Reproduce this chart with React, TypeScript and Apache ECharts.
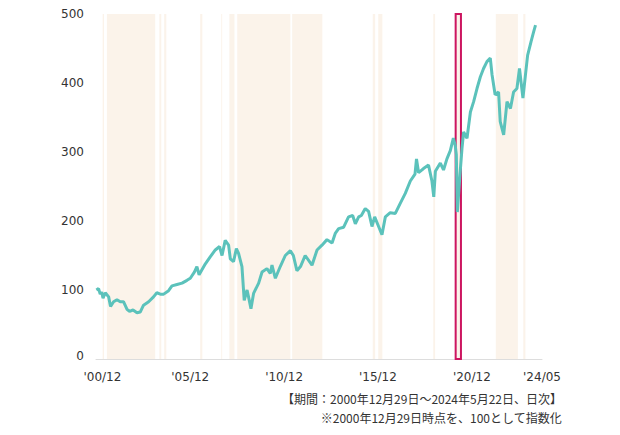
import React, { useEffect, useRef } from "react";
import * as echarts from "echarts";

// Index level (2000-12-29 = 100)
const dates: string[] = [
  "2000-12-29","2001-02-10","2001-03-14","2001-04-12","2001-05-08","2001-06-21","2001-08-25","2001-10-01",
  "2001-11-29","2002-02-03","2002-04-08","2002-06-10","2002-08-18","2002-10-05","2002-12-13","2003-02-28",
  "2003-05-01","2003-07-05","2003-10-12","2004-01-15","2004-03-20","2004-05-26","2004-07-31","2004-11-03",
  "2005-01-08","2005-04-16","2005-07-23","2005-10-27","2005-12-31","2006-03-20","2006-05-08","2006-06-20",
  "2006-10-20","2007-01-22","2007-05-01","2007-07-23","2007-09-09","2007-11-10","2008-01-15","2008-02-18",
  "2008-04-20","2008-06-14","2008-07-27","2008-10-01","2008-11-14","2009-01-08","2009-02-06","2009-03-25",
  "2009-05-15","2009-08-22","2009-10-27","2010-01-30","2010-04-05","2010-05-08","2010-07-13","2010-10-16",
  "2011-01-22","2011-05-01","2011-06-28","2011-09-05","2011-11-14","2012-02-13","2012-06-25","2012-10-01",
  "2013-01-05","2013-04-12","2013-07-20","2013-09-20","2013-11-25","2014-03-03","2014-06-06","2014-08-25",
  "2014-10-16","2014-12-20","2015-02-10","2015-04-27","2015-07-01","2015-09-05","2015-10-27","2016-01-12",
  "2016-03-17","2016-05-22","2016-08-25","2016-12-02","2017-03-10","2017-06-14","2017-09-20","2017-12-20",
  "2018-01-18","2018-02-28","2018-05-05","2018-06-03","2018-09-09","2018-11-14","2018-12-20","2019-01-20",
  "2019-04-27","2019-06-28","2019-09-02","2019-11-07","2020-01-05","2020-02-10","2020-03-03","2020-03-23",
  "2020-05-08","2020-06-21","2020-07-23","2020-09-27","2020-12-02","2021-02-03","2021-04-09","2021-06-14",
  "2021-08-15","2021-10-20","2021-12-24","2022-01-27","2022-03-28","2022-06-03","2022-07-05","2022-09-10",
  "2022-11-14","2023-01-20","2023-03-22","2023-05-26","2023-07-15","2023-09-20","2023-11-07","2023-12-20",
  "2024-02-25","2024-04-15","2024-05-22",
];
const values: number[] = [
  100,102,94,97,88,96,90,76,
  83,86,83,83,72,69,71,67,
  68,78,83,90,96,94,94,99,
  106,108,110,114,117,126,134,122,
  138,148,158,163,150,172,165,145,
  141,160,153,134,85,100,90,73,
  95,110,126,131,124,136,117,134,
  150,157,150,128,134,150,136,158,
  165,173,168,182,189,191,206,208,
  196,206,208,218,214,192,206,192,
  180,206,212,211,226,240,258,268,
  290,270,274,276,281,258,235,272,
  284,274,290,302,320,310,296,213,
  262,305,329,320,358,373,392,409,
  421,431,436,412,383,387,344,325,
  373,363,387,392,421,378,411,440,
  460,474,484,
];

// Shaded periods
const bandStarts: string[] = [
  "2001-05-01","2001-07-22","2004-05-08","2004-08-10","2006-07-12","2007-08-25","2008-01-30",
  "2008-07-01","2011-06-05","2015-09-20","2016-01-05","2018-12-10","2022-04-10","2023-09-27",
];
const bandEnds: string[] = [
  "2001-05-26","2004-02-17","2004-06-14","2004-09-20","2006-08-22","2007-09-12","2008-05-08",
  "2011-05-01","2013-01-12","2015-11-06","2016-03-25","2019-01-15","2023-06-14","2023-11-07",
];
// Highlighted period (red frame)
const highlight: [string, string] = ["2020-02-19", "2020-06-01"];

// Axis
const xMin = "2000-12-22";
const xMax = "2024-09-25";
const xTickDates: string[] = ["2001-04-26", "2005-12-30", "2010-12-30", "2015-12-30", "2020-12-30", "2024-09-25"];
const xTickLabels: string[] = ["'00/12", "'05/12", "'10/12", "'15/12", "'20/12", "'24/05"];
const yTicks: number[] = [0, 100, 200, 300, 400, 500];

const noteLines: string[] = [
  "【期間：2000年12月29日～2024年5月22日、日次】",
  "※2000年12月29日時点を、100として指数化",
];

const BAND = "#fbf3ea";
const LINE = "#5bc2bb";
const RED = "#cc1560";
const TEXT = "#333333";
const FONT = "DejaVu Sans";

export default function App() {
  const ref = useRef<HTMLDivElement>(null);
  useEffect(() => {
    document.body.style.margin = "0";
    if (!ref.current) return;
    const chart = echarts.init(ref.current, undefined, { renderer: "svg" });
    const ts = (d: string) => new Date(d + "T00:00:00Z").getTime();
    const tickTs = xTickDates.map(ts);
    chart.setOption({
      animation: false,
      grid: { left: 96, right: 78, top: 14, bottom: 76 },
      xAxis: {
        type: "value",
        min: ts(xMin),
        max: ts(xMax),
        axisLine: { show: true, lineStyle: { color: "#dddddd", width: 1 } },
        axisTick: { show: false },
        splitLine: { show: false },
        axisLabel: {
          customValues: tickTs,
          margin: 12,
          color: TEXT,
          fontFamily: FONT,
          fontSize: 12,
          formatter: (v: number) => {
            const i = tickTs.indexOf(v);
            return i >= 0 ? xTickLabels[i] : "";
          },
        },
      },
      yAxis: {
        type: "value",
        min: yTicks[0],
        max: yTicks[yTicks.length - 1],
        interval: 100,
        axisLine: { show: false },
        axisTick: { show: false },
        splitLine: { show: false },
        axisLabel: {
          margin: 12,
          color: TEXT,
          fontFamily: FONT,
          fontSize: 12,
          formatter: (v: number) => (v === 0 ? "{z|0}" : String(v)),
          rich: { z: { padding: [0, 0, 7, 0], color: TEXT, fontFamily: FONT, fontSize: 12 } },
        },
      },
      series: [
        {
          type: "line",
          data: dates.map((d, i) => [ts(d), values[i]]),
          showSymbol: false,
          lineStyle: { color: LINE, width: 3 },
          itemStyle: { color: LINE },
          z: 3,
          markArea: {
            silent: true,
            itemStyle: { color: BAND },
            data: [
              ...bandStarts.map((s, i) => [{ xAxis: ts(s) }, { xAxis: ts(bandEnds[i]) }]),
              [{ xAxis: ts(highlight[0]) }, { xAxis: ts(highlight[1]) }],
            ],
          },
        },
        {
          type: "line",
          data: [],
          z: 10,
          markArea: {
            silent: true,
            itemStyle: { color: "rgba(0,0,0,0)", borderColor: RED, borderWidth: 2 },
            data: [[{ xAxis: ts(highlight[0]) }, { xAxis: ts(highlight[1]) }]],
          },
        },
      ],
      graphic: noteLines.map((t, i) => ({
        type: "text",
        right: 58,
        top: 392 + i * 19,
        style: { text: t, fill: TEXT, fontSize: 12, fontFamily: "Noto Sans CJK JP" },
      })),
    });
    return () => chart.dispose();
  }, []);
  return <div ref={ref} style={{ width: 620, height: 435 }} />;
}
